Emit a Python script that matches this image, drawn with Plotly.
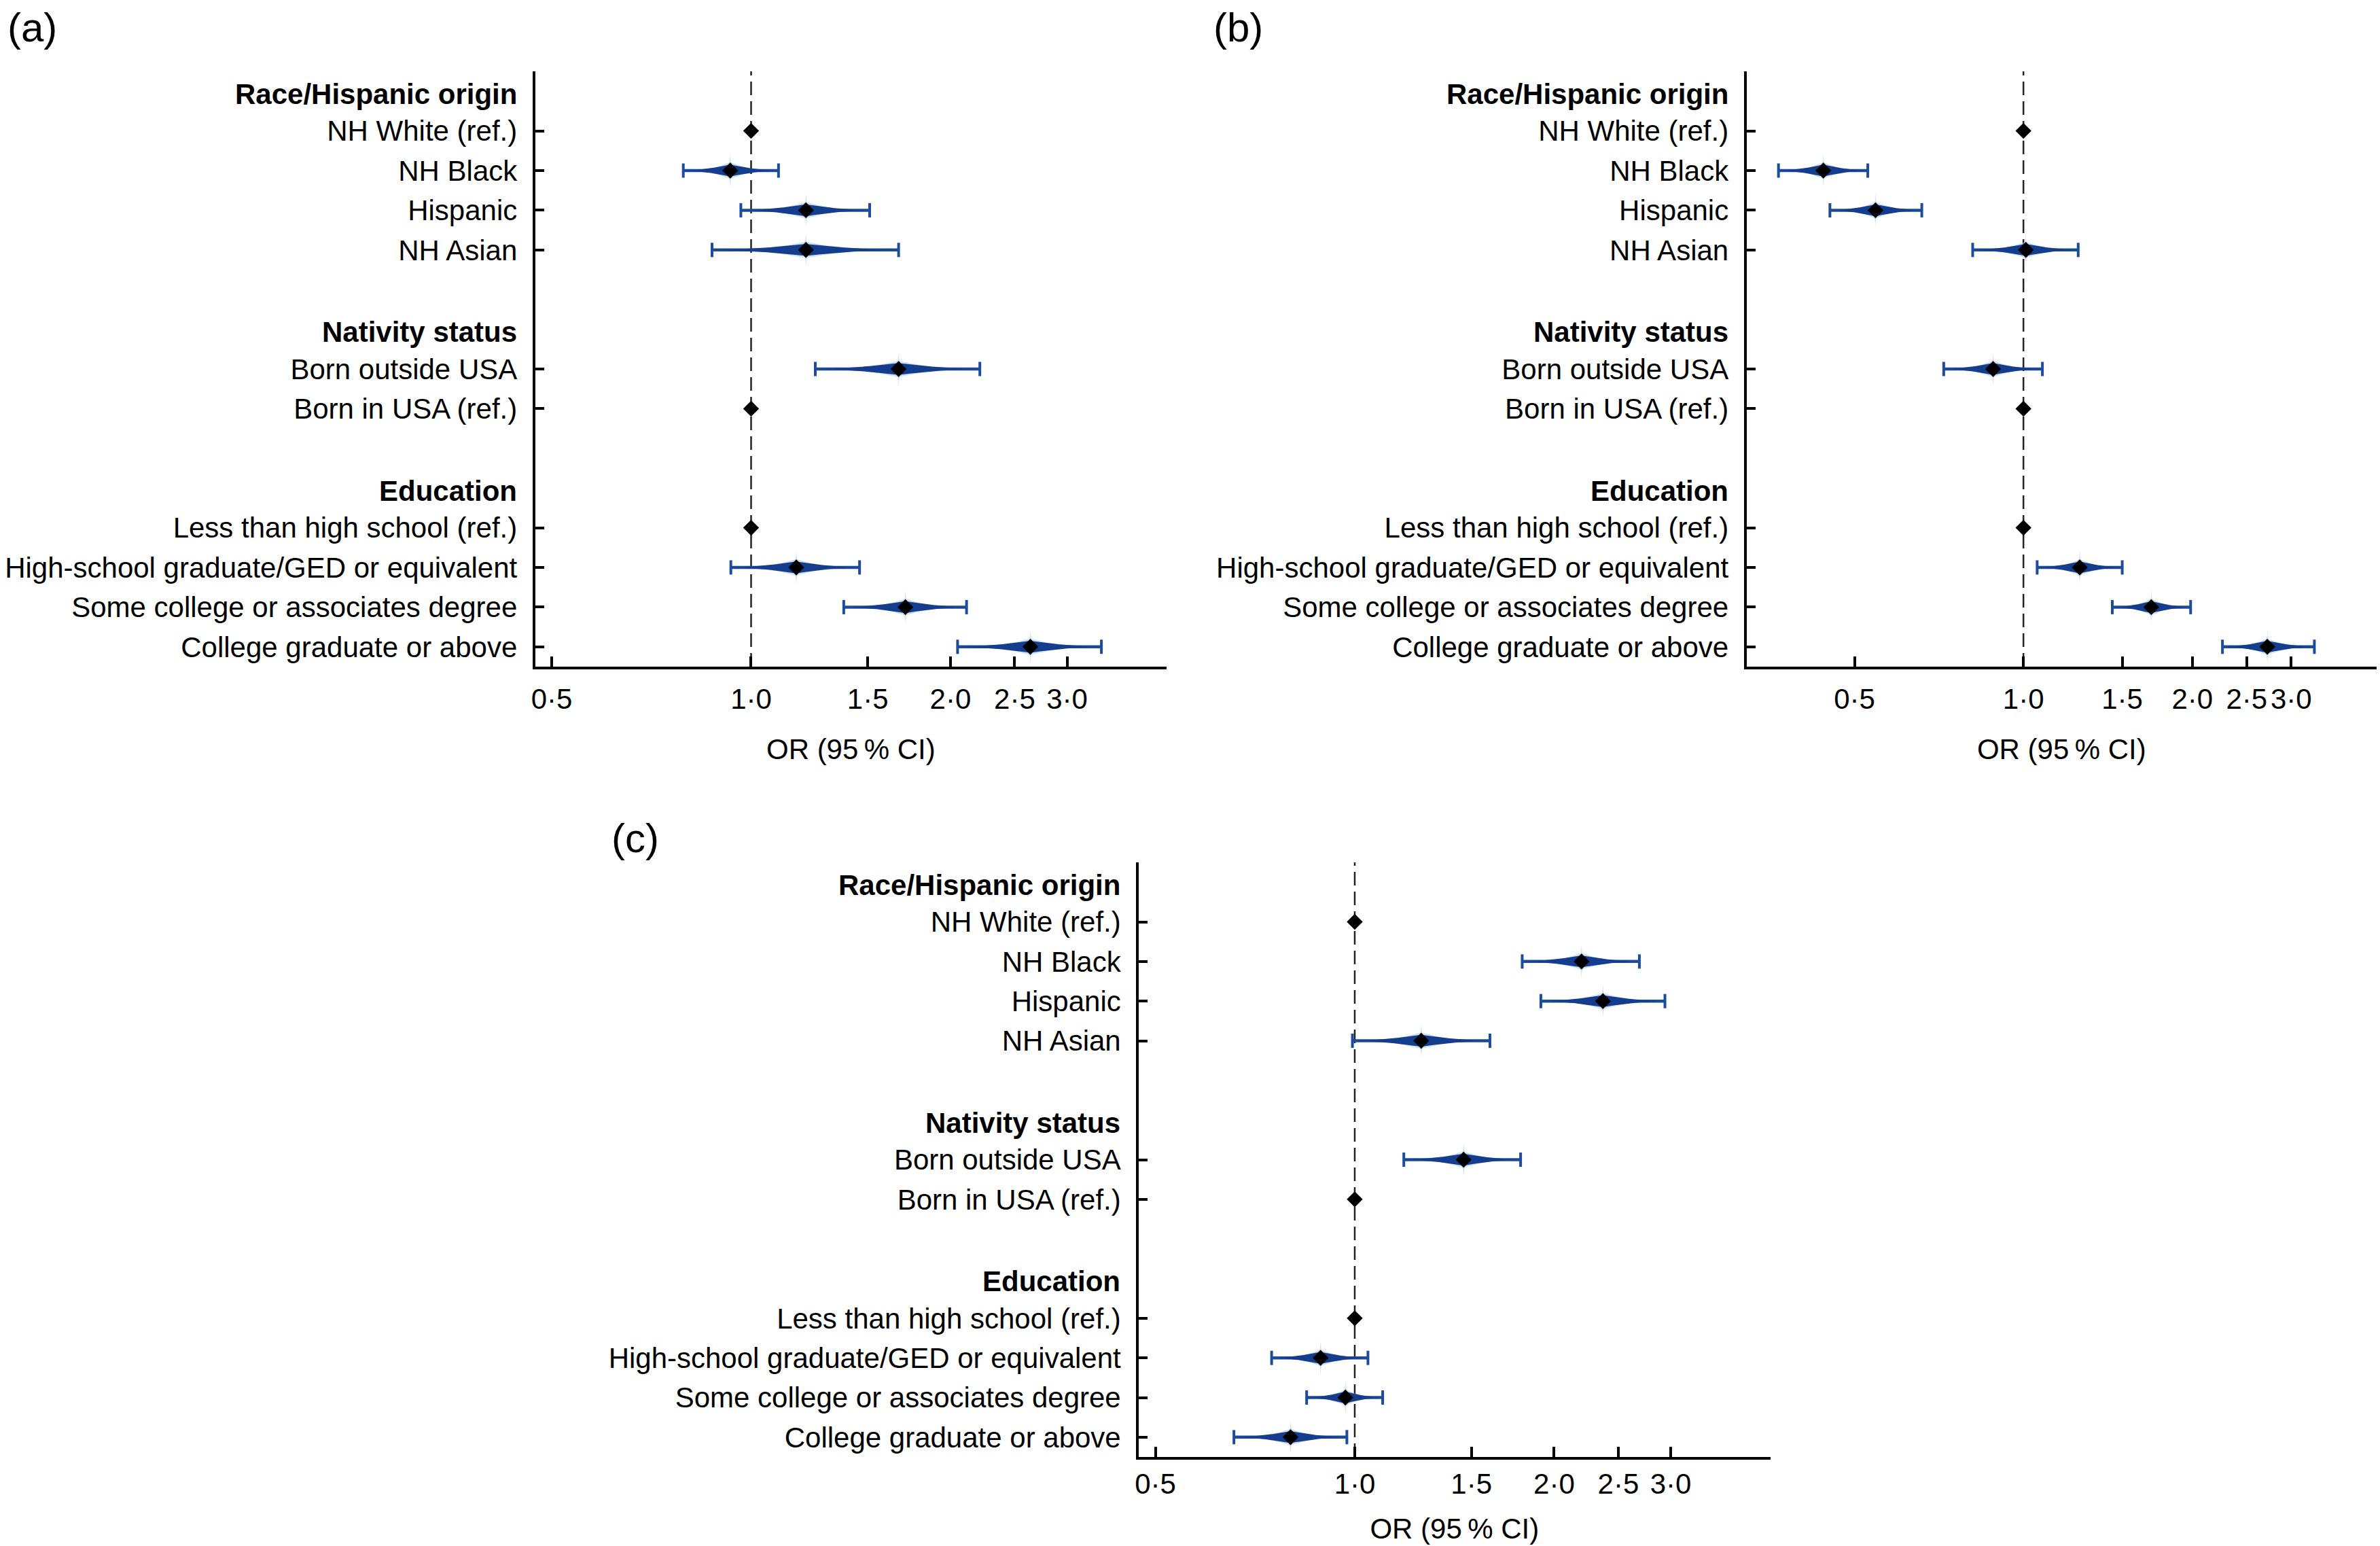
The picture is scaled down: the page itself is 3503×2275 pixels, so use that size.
import numpy as np
import plotly.graph_objects as go

# ---------------- data ----------------
groups = ["Race/Hispanic origin", "Nativity status", "Education"]
group_items = [
    ["NH White (ref.)", "NH Black", "Hispanic", "NH Asian"],
    ["Born outside USA", "Born in USA (ref.)"],
    ["Less than high school (ref.)", "High-school graduate/GED or equivalent",
     "Some college or associates degree", "College graduate or above"],
]

# panel (a)
or_a = [1.0, 0.93, 1.21, 1.21, 1.67, 1.0, 1.0, 1.17, 1.71, 2.64]
lo_a = [None, 0.79, 0.965, 0.873, 1.25, None, None, 0.932, 1.38, 2.05]
hi_a = [None, 1.10, 1.51, 1.67, 2.215, None, None, 1.458, 2.115, 3.38]

# panel (b)
or_b = [1.0, 0.44, 0.545, 1.01, 0.883, 1.0, 1.0, 1.26, 1.69, 2.72]
lo_b = [None, 0.366, 0.452, 0.812, 0.721, None, None, 1.058, 1.44, 2.263]
hi_b = [None, 0.528, 0.659, 1.252, 1.081, None, None, 1.50, 1.986, 3.30]

# panel (c)
or_c = [1.0, 2.20, 2.37, 1.26, 1.46, 1.0, 1.0, 0.888, 0.968, 0.80]
lo_c = [None, 1.79, 1.91, 0.992, 1.186, None, None, 0.749, 0.846, 0.657]
hi_c = [None, 2.69, 2.94, 1.60, 1.78, None, None, 1.047, 1.102, 0.973]

x_tickvals = [0.5, 1.0, 1.5, 2.0, 2.5, 3.0]
x_ticktext = ["0·5", "1·0", "1·5", "2·0", "2·5", "3·0"]
x_title = "OR (95\u2009% CI)"
panel_letters = ["(a)", "(b)", "(c)"]

# ---------------- layout constants ----------------
W, H = 3503, 2275
FONT = "Liberation Sans, Arial, Helvetica, sans-serif"
FS = 42
LINE_BLUE = "#1d4c9b"
DARK_BLUE = "#143e8d"
GLOW = "rgba(165,198,224,0.55)"

# row positions
header_y, item_y, item_lab = [], [], []
r = -1
for g, its in zip(groups, group_items):
    header_y.append(r)
    r += 1
    for it in its:
        item_y.append(r)
        item_lab.append(it)
        r += 1
    r += 1


def px_x(p):
    return p / W


def px_y(p):
    return 1 - p / H


panels = [
    dict(ors=or_a, los=lo_a, his=hi_a, xr=[np.log10(0.472), np.log10(4.24)],
         xd=[px_x(783), px_x(1714)], yd=[px_y(981), px_y(105)], tls=8, ts=37),
    dict(ors=or_b, los=lo_b, his=hi_b, xr=[np.log10(0.321), np.log10(4.26)],
         xd=[px_x(2569), px_x(3498)], yd=[px_y(981), px_y(105)], tls=8, ts=37),
    dict(ors=or_c, los=lo_c, his=hi_c, xr=[np.log10(0.472), np.log10(4.24)],
         xd=[px_x(1673), px_x(2604)], yd=[px_y(2144), px_y(1269)], tls=0, ts=29),
]
letter_pos = [(3, 40), (1781, 40), (894, 1233)]

fig = go.Figure()


def spindle(lo, est, hi, y, h0, p, n=30):
    L, E, Hh = np.log(lo), np.log(est), np.log(hi)
    t = np.linspace(0, 1, n)
    xs_left = L + (E - L) * t
    hs_left = h0 * t ** p
    s = np.linspace(0, 1, n)[1:]
    xs_right = E + (Hh - E) * s
    hs_right = h0 * (1 - s) ** p
    xs = np.concatenate([xs_left, xs_right])
    hs = np.concatenate([hs_left, hs_right])
    X = np.concatenate([xs, xs[::-1]])
    Y = np.concatenate([y - hs, (y + hs)[::-1]])
    return np.exp(X), Y


def spike(est, y, hh, w, p, n=20):
    E = np.log(est)
    u = np.linspace(0, 1, n)
    ws = w * (1 - u) ** p
    ys = np.concatenate([(y - hh * u)[::-1], (y + hh * u)[1:]])
    wsa = np.concatenate([ws[::-1], ws[1:]])
    X = np.concatenate([E + wsa, (E - wsa)[::-1]])
    Y = np.concatenate([ys, ys[::-1]])
    return np.exp(X), Y


for k, pdef in enumerate(panels):
    n = "" if k == 0 else str(k + 1)
    xa, ya = "x" + n, "y" + n
    for est, lo, hi, y in zip(pdef["ors"], pdef["los"], pdef["his"], item_y):
        if lo is not None:
            sx, sy = spike(est, y, 0.45, 0.02, 3)
            fig.add_trace(go.Scatter(x=sx, y=sy, mode="lines", fill="toself",
                                     fillcolor=GLOW, line=dict(width=0),
                                     xaxis=xa, yaxis=ya, hoverinfo="skip"))
            gx, gy = spindle(lo, est, hi, y, 0.21, 2.5)
            fig.add_trace(go.Scatter(x=gx, y=gy, mode="lines", fill="toself",
                                     fillcolor=GLOW, line=dict(width=0),
                                     xaxis=xa, yaxis=ya, hoverinfo="skip"))
            fig.add_trace(go.Scatter(x=[lo, hi], y=[y, y], mode="lines",
                                     line=dict(color=LINE_BLUE, width=4.5),
                                     xaxis=xa, yaxis=ya, hoverinfo="skip"))
            dx, dy = spindle(lo, est, hi, y, 0.15, 1.7)
            fig.add_trace(go.Scatter(x=dx, y=dy, mode="lines", fill="toself",
                                     fillcolor=DARK_BLUE, line=dict(width=0),
                                     xaxis=xa, yaxis=ya, hoverinfo="skip"))
            for c in (lo, hi):
                fig.add_trace(go.Scatter(x=[c, c], y=[y - 0.18, y + 0.18], mode="lines",
                                         line=dict(color=LINE_BLUE, width=4),
                                         xaxis=xa, yaxis=ya, hoverinfo="skip"))
    fig.add_trace(go.Scatter(x=pdef["ors"], y=item_y, mode="markers",
                             marker=dict(symbol="diamond", size=18, color="black",
                                         line=dict(width=0)),
                             xaxis=xa, yaxis=ya, hoverinfo="skip"))

    fig.add_shape(type="line", x0=1, x1=1, xref=xa, y0=0, y1=1, yref=ya + " domain",
                  line=dict(color="#222222", width=2.5, dash="20px,9px"), layer="below")

    xkey = "xaxis" + n
    ykey = "yaxis" + n
    fig.update_layout(**{
        xkey: dict(domain=pdef["xd"], anchor=ya, type="log", range=pdef["xr"],
                   tickvals=x_tickvals, ticktext=x_ticktext, ticks="inside",
                   ticklen=15, tickwidth=4, tickcolor="black", showline=True,
                   linewidth=4, linecolor="black", showgrid=False, zeroline=False,
                   tickfont=dict(family=FONT, size=FS, color="black"),
                   ticklabelstandoff=pdef["tls"],
                   title=dict(text=x_title, font=dict(family=FONT, size=FS, color="black"),
                              standoff=pdef["ts"])),
        ykey: dict(domain=pdef["yd"], anchor=xa, range=[13.5, -1.5],
                   tickvals=item_y, ticktext=item_lab, ticks="inside", ticklen=13,
                   tickwidth=4, tickcolor="black", showline=True, linewidth=4,
                   linecolor="black", showgrid=False, zeroline=False,
                   tickfont=dict(family=FONT, size=FS, color="black"),
                   ticklabelstandoff=14),
    })
    for g, hy in zip(groups, header_y):
        fig.add_annotation(text="<b>" + g + "</b>", x=0, xref=xa + " domain", y=hy, yref=ya,
                           xanchor="right", yanchor="middle", xshift=-25, yshift=-4,
                           showarrow=False, font=dict(family=FONT, size=FS, color="black"))

for lt, (lx, ly) in zip(panel_letters, letter_pos):
    fig.add_annotation(text=lt, x=px_x(lx), y=px_y(ly), xref="paper", yref="paper",
                       xanchor="left", yanchor="middle", showarrow=False,
                       font=dict(family=FONT, size=60, color="black"))

fig.update_layout(width=W, height=H, margin=dict(l=0, r=0, t=0, b=0),
                  autosize=False, showlegend=False, plot_bgcolor="white",
                  paper_bgcolor="white", hovermode=False)

fig.write_html("out.html", config={"displayModeBar": False},
               post_script="document.body.style.margin='0';")
